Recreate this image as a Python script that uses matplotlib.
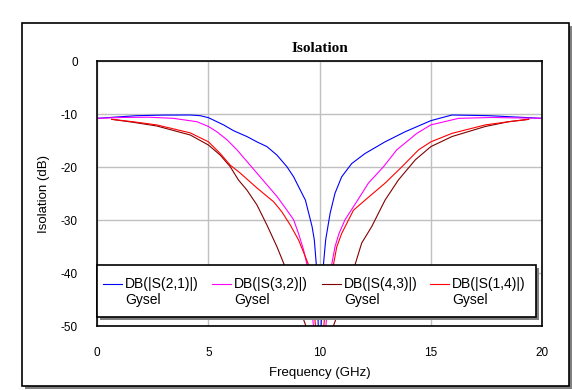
import matplotlib
matplotlib.use("Agg")
import matplotlib.pyplot as plt
from matplotlib.patches import Rectangle

plt.rcParams['font.family'] = ['Liberation Sans', 'DejaVu Sans']
plt.rcParams['axes.unicode_minus'] = False

# Dados (GHz, dB)
f21 = [0, 1.77, 3.0, 4.18, 4.63, 5.0, 5.68, 6.13, 6.73, 7.18, 7.63, 8.08, 8.53, 8.83, 9.13, 9.36, 9.51, 9.66,
       9.76, 9.85, 9.9, 9.95, 10.0, 10.05, 10.12, 10.17, 10.27, 10.47, 10.69, 10.99, 11.44, 12.04, 12.94, 13.84,
       15.0, 15.95, 17.6, 20]
s21 = [-10.76, -10.26, -10.15, -10.13, -10.26, -10.64, -12.0, -13.1, -14.2, -15.2, -16.1, -17.7, -19.9, -21.8,
       -24.3, -26.2, -28.7, -31.2, -33.7, -38.4, -44, -52, -60, -52, -44, -38.4, -33.7, -28.7, -24.9, -21.8, -19.3,
       -17.4, -15.2, -13.3, -11.2, -10.13, -10.26, -10.76]

f32 = [0, 1.1, 2.3, 3.42, 4.48, 5.0, 5.38, 5.83, 6.28, 6.73, 7.18, 7.63, 8.08, 8.53, 8.83, 9.05, 9.28, 9.43,
       9.6, 9.8, 10.0, 10.2, 10.4, 10.54, 10.69, 10.87, 11.14, 11.71, 12.19, 12.87, 13.47, 14.37, 15.0, 16.25,
       17.75, 20]
s32 = [-10.76, -10.6, -10.55, -10.76, -11.4, -12.3, -13.3, -14.8, -16.7, -18.9, -21.1, -23.3, -25.5, -28.1,
       -29.9, -32.5, -35.6, -38.4, -44, -54, -60, -54, -44, -38.4, -35.0, -32.5, -29.9, -26.2, -23.0, -19.9,
       -16.7, -13.6, -12.0, -10.76, -10.6, -10.76]

f43 = [0.65, 1.6, 2.67, 4.18, 5.0, 5.53, 5.98, 6.35, 6.73, 7.18, 7.63, 8.08, 8.41, 8.7, 9.0, 9.3, 9.65, 10.0,
       10.35, 10.7, 11.0, 11.3, 11.59, 11.89, 12.34, 12.94, 13.54, 14.3, 15.0, 15.95, 17.45, 18.5, 19.4]
s43 = [-10.95, -11.5, -12.2, -13.9, -15.8, -17.7, -19.9, -22.4, -24.3, -27.1, -30.9, -35.0, -38.4, -41.5, -45,
       -49, -53, -55, -53, -49, -45, -41.5, -38.4, -34.3, -31.2, -26.2, -22.4, -18.6, -16.1, -14.2, -12.3, -11.4,
       -10.95]

f14 = [0.65, 1.6, 2.67, 4.18, 5.0, 5.53, 5.98, 6.43, 7.18, 7.93, 8.3, 8.68, 9.05, 9.36, 9.5, 9.7, 9.85, 10.0,
       10.15, 10.3, 10.5, 10.62, 10.77, 10.99, 11.52, 12.04, 12.94, 13.7, 14.45, 15.0, 15.95, 17.45, 18.5, 19.4]
s14 = [-10.95, -11.4, -12.0, -13.5, -15.2, -17.4, -19.6, -21.1, -23.9, -26.5, -28.4, -30.9, -33.7, -36.9, -38.4,
       -44, -52, -60, -52, -44, -38.9, -38.4, -35.0, -32.5, -28.1, -26.2, -23.0, -19.9, -16.7, -15.2, -13.6, -12.0,
       -11.4, -10.95]

series = [(f21, s21), (f32, s32), (f43, s43), (f14, s14)]
nomes = ['DB(|S(2,1)|)', 'DB(|S(3,2)|)', 'DB(|S(4,3)|)', 'DB(|S(1,4)|)']
cores = ['#0000ff', '#ff00ff', '#800000', '#ff0000']
xticks = [0, 5, 10, 15, 20]
yticks = [0, -10, -20, -30, -40, -50]

W, H = 572, 390
fig = plt.figure(figsize=(W / 100, H / 100), dpi=100)

# moldura externa com sombra
fig.patches.append(Rectangle((25.3 / W, 1 - 389 / H), 546.4 / W, 362.7 / H, transform=fig.transFigure,
                             facecolor='#808080', edgecolor='none', zorder=0))
fig.patches.append(Rectangle((22.3 / W, 1 - 386 / H), 546.4 / W, 362.7 / H, transform=fig.transFigure,
                             facecolor='white', edgecolor='black', linewidth=1.2, zorder=1))

ax = fig.add_axes([97.3 / W, 1 - 326.3 / H, 444.7 / W, 265 / H])
ax.set_zorder(2)
for (fx, sy), c in zip(series, cores):
    ax.plot(fx, sy, color=c, linewidth=0.8)

ax.set_xlim(0, 20)
ax.set_ylim(-50, 0)
ax.set_xticks(xticks)
ax.set_yticks(yticks)
ax.set_xticklabels([str(v) for v in xticks])
ax.set_yticklabels([str(v) for v in yticks])
ax.tick_params(length=0, labelsize=8.5, pad=14)
ax.tick_params(axis='x', pad=15)
ax.grid(True, color='#c0c0c0', linewidth=1)
for sp in ax.spines.values():
    sp.set_linewidth(1.2)

ax.set_title('Isolation', fontfamily='Liberation Serif', fontweight='bold', fontsize=11, pad=7)
ax.set_xlabel('Frequency (GHz)', fontsize=9.5, labelpad=6)
ax.set_ylabel('Isolation (dB)', fontsize=9.5, labelpad=8)

# legenda desenhada à mão (caixa com sombra)
def px(x, y):
    return ((x - 97.3) / 444.7, (326.3 - y) / 265)

x0, y0 = px(100.3, 320.3)
x1, y1 = px(539, 268)
ax.add_patch(Rectangle((x0, y0), x1 - x0, y1 - y0, transform=ax.transAxes, facecolor='#808080',
                       edgecolor='none', zorder=5, clip_on=False))
x0, y0 = px(97.3, 317.3)
x1, y1 = px(536, 265)
ax.add_patch(Rectangle((x0, y0), x1 - x0, y1 - y0, transform=ax.transAxes, facecolor='white',
                       edgecolor='black', linewidth=1.2, zorder=6, clip_on=False))
for i, (nome, c) in enumerate(zip(nomes, cores)):
    lx = [103, 212, 322, 430][i]
    a, b = px(lx, 284)
    a2, _ = px(lx + 19, 284)
    ax.plot([a, a2], [b, b], transform=ax.transAxes, color=c, linewidth=0.8, zorder=7, clip_on=False)
    t, _ = px(lx + 22, 284)
    _, b2 = px(lx, 300)
    ax.text(t, b, nome, transform=ax.transAxes, fontsize=10, va='center', ha='left', zorder=7)
    ax.text(t, b2, 'Gysel', transform=ax.transAxes, fontsize=10, va='center', ha='left', zorder=7)

fig.savefig('out.png', dpi=100)
